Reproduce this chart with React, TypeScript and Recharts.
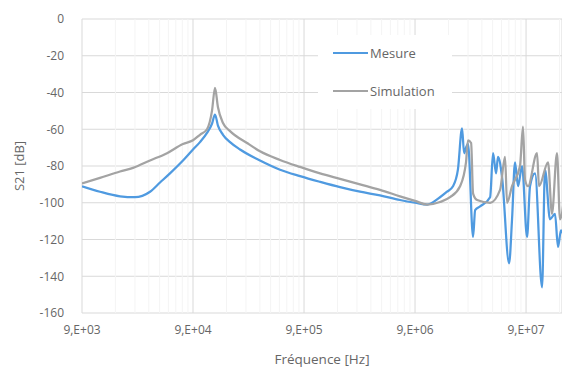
import React from 'react';
import { LineChart, Line, XAxis, YAxis, CartesianGrid, ReferenceLine, Label } from 'recharts';

// frequences en Hz, niveaux en dB
const mesureFreq = [
  9000, 13070, 19800, 27000, 36900, 45400, 55800, 73100, 90000, 104000, 120300, 133400, 142000,
  151000, 167600, 194000, 238700, 361000, 547000, 828000, 1.254e6, 1.898e6, 2.875e6, 4.35e6,
  6.59e6, 9.0e6, 1.154e7, 1.51e7, 1.747e7, 1.978e7, 2.19e7, 2.386e7, 2.49e7, 2.59e7, 2.7e7,
  3.0e7, 3.13e7, 3.47e7, 4.27e7, 4.54e7, 4.83e7, 5.03e7, 5.47e7, 6.33e7, 6.73e7, 7.16e7, 7.62e7,
  8.28e7, 9.19e7, 9.77e7, 1.084e8, 1.254e8, 1.334e8, 1.48e8, 1.64e8, 1.746e8, 1.858e8, 2.0e8,
];
const mesureDb = [
  -91, -94, -96.5, -97, -94, -89, -84, -77, -71, -67, -62, -57, -52,
  -58, -63, -67, -71, -77, -82, -85.5, -88.6, -91.5, -94, -96,
  -98.5, -100, -101, -97, -94, -91, -82, -59.5, -73, -70, -68,
  -118.6, -104, -102, -97, -73, -84, -75, -86, -133, -109, -78, -91,
  -80, -118.6, -91, -84, -146, -82, -109, -106, -124, -115, -120,
];

const simFreq = [
  9000, 13070, 19800, 26000, 36900, 52500, 73100, 90000, 104000, 120300, 133400, 142000,
  151000, 167600, 194000, 276000, 361000, 547000, 828000, 1.254e6, 1.898e6, 2.875e6, 4.35e6,
  6.59e6, 9.0e6, 1.154e7, 1.51e7, 1.86e7, 2.29e7, 2.59e7, 2.7e7, 2.88e7, 3.0e7, 3.26e7, 4.27e7,
  5.25e7, 5.82e7, 6.07e7, 6.73e7, 7.94e7, 8.45e7, 8.81e7, 9.38e7, 1.13e8, 1.178e8, 1.42e8,
  1.54e8, 1.71e8, 1.82e8, 2.0e8,
];
const simDb = [
  -89.5, -86.5, -83, -81, -77, -73, -68, -66, -63, -60, -50, -37.5,
  -48, -56.6, -61, -67.5, -72, -76.7, -80.5, -84, -87, -90, -93,
  -96.5, -99, -101, -99.6, -97, -91, -78, -66, -67.5, -95, -98.5, -100,
  -93, -75, -100, -91, -80, -58.6, -87.6, -91, -73, -91, -78,
  -106, -73, -109, -95,
];

const xTicks = [9e3, 9e4, 9e5, 9e6, 9e7];
const yTicks = [0, -20, -40, -60, -80, -100, -120, -140, -160];
const seriesNames = ['Mesure', 'Simulation'];

const mesure = mesureFreq.map((f, i) => ({ f, v: mesureDb[i] }));
const simulation = simFreq.map((f, i) => ({ f, v: simDb[i] }));
const minorTicks = xTicks.flatMap(t => [2, 3, 4, 5, 6, 7, 8, 9].map(k => t * k));

const FONT = '"Open Sans", "Liberation Sans", sans-serif';
const BLUE = '#4f9ae0';
const GRAY = '#a3a3a3';
const colors = [BLUE, GRAY];

const fmtX = (v: number) => `9,E+${String(Math.round(Math.log10(v / 9))).padStart(2, '0')}`;

export default function App() {
  return (
    <div style={{ position: 'absolute', left: 0, top: 0, width: 562, height: 370, background: '#fff', overflow: 'hidden' }}>
      <LineChart width={562} height={370} margin={{ top: 19, right: 0, bottom: 0, left: 0 }}>
        {minorTicks.map(t => (
          <ReferenceLine key={t} x={t} stroke="#f4f4f4" strokeWidth={1} ifOverflow="hidden" />
        ))}
        <CartesianGrid stroke="#d9d9d9" strokeWidth={1} />
        <XAxis
          dataKey="f"
          type="number"
          scale="log"
          domain={[9000, 1.897e8]}
          allowDataOverflow
          ticks={xTicks}
          tickFormatter={fmtX}
          axisLine={false}
          tickLine={false}
          tickMargin={6}
          height={57}
          tick={{ fill: '#666', fontSize: 12, fontFamily: FONT }}
        >
          <Label value="Fréquence [Hz]" position="insideBottom" offset={6} style={{ fill: '#666', fontSize: 13.5, fontFamily: FONT }} />
        </XAxis>
        <YAxis
          type="number"
          domain={[-160, 0]}
          ticks={yTicks}
          axisLine={false}
          tickLine={false}
          tickMargin={12}
          width={82}
          tick={{ fill: '#666', fontSize: 12, fontFamily: FONT }}
        >
          <Label value="S21 [dB]" angle={-90} position="insideLeft" offset={19} style={{ fill: '#666', fontSize: 13, fontFamily: FONT, textAnchor: 'middle' }} />
        </YAxis>
        <Line data={mesure} dataKey="v" name="Mesure" type="monotone" stroke={BLUE} strokeWidth={2.25} dot={false} isAnimationActive={false} />
        <Line data={simulation} dataKey="v" name="Simulation" type="monotone" stroke={GRAY} strokeWidth={2.25} dot={false} isAnimationActive={false} />
      </LineChart>
      <div style={{ position: 'absolute', left: 318, top: 35, width: 134, height: 74, background: '#fff', fontFamily: FONT, fontSize: 13, color: '#666' }}>
        {seriesNames.map((n, i) => (
          <div key={n} style={{ display: 'flex', alignItems: 'center', position: 'absolute', left: 15, top: 9 + i * 38, height: 18 }}>
            <span style={{ display: 'inline-block', width: 35, height: 2, background: colors[i], marginRight: 2 }} />
            <span>{n}</span>
          </div>
        ))}
      </div>
    </div>
  );
}
